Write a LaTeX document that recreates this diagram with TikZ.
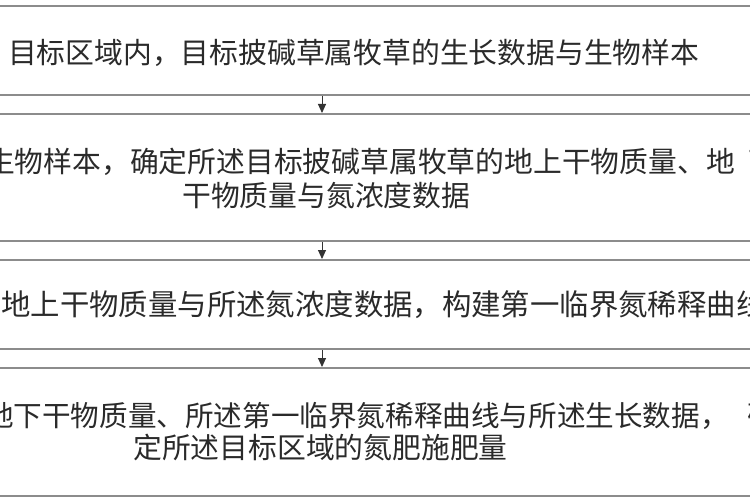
\documentclass[tikz,border=0pt]{standalone}
\usepackage{fontspec}
\newfontfamily\cjk{Noto Sans CJK SC}
\usetikzlibrary{arrows.meta}
\definecolor{boxgray}{HTML}{8C8C8C}
\definecolor{txtgray}{HTML}{2A2A2A}
\definecolor{arrgray}{HTML}{333333}
\begin{document}
\begin{tikzpicture}[x=1pt,y=-1pt,
  stepbox/.style={draw=boxgray, line width=2.4pt, minimum width=900pt, anchor=north, inner sep=0pt},
  steptext/.style={anchor=base west, inner sep=0pt, font=\cjk\fontsize{28.8pt}{33pt}\selectfont, text=txtgray},
  widetext/.style={steptext, font=\cjk\fontsize{29.4pt}{33pt}\selectfont},
  flow/.style={draw=arrgray, line width=0.9pt, -{Triangle[width=8pt,length=9pt]}}]
\useasboundingbox (0,0) rectangle (750,500);
\fill[white] (0,0) rectangle (750,500);
\clip (0,0) rectangle (750,500);
% boxes
\node[stepbox, minimum height=89pt]  (b1) at (322,5)   {};
\node[stepbox, minimum height=127pt] (b2) at (322,113) {};
\node[stepbox, minimum height=89pt]  (b3) at (322,259) {};
\node[stepbox, minimum height=128pt] (b4) at (322,367) {};
% texts
\node[steptext] (t1)  at (8,64)    {目标区域内，目标披碱草属牧草的生长数据与生物样本};
\node[steptext] (t2a) at (-14,173) {生物样本，确定所述目标披碱草属牧草的地上干物质量、地\kern14pt 下};
\node[steptext] (t2b) at (182,207) {干物质量与氮浓度数据};
\node[widetext] (t3)  at (1,315)   {地上干物质量与所述氮浓度数据，构建第一临界氮稀释曲线};
\node[steptext, font=\cjk\fontsize{28.6pt}{33pt}\selectfont] (t4a) at (-15,426) {地下干物质量、所述第一临界氮稀释曲线与所述生长数据，\kern19pt 确};
\node[steptext] (t4b) at (133,458) {定所述目标区域的氮肥施肥量};
% arrows
\draw[flow] (b1.south) -- (b2.north);
\draw[flow] (b2.south) -- (b3.north);
\draw[flow] (b3.south) -- (b4.north);
\end{tikzpicture}
\end{document}
